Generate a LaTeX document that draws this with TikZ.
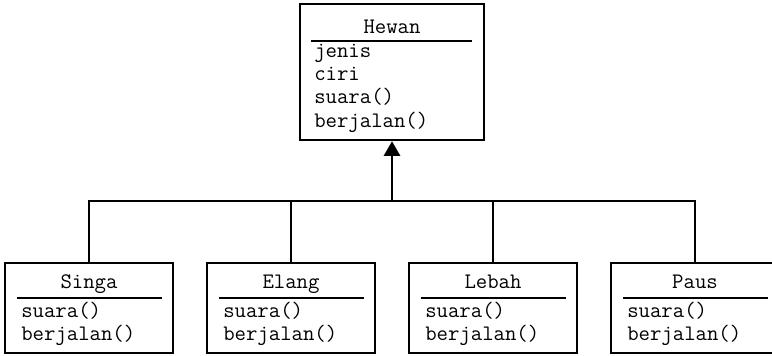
\documentclass[tikz,border=0pt]{standalone}
\usepackage{fontspec}
\usetikzlibrary{arrows.meta}

\begin{document}
\begin{tikzpicture}[
  x=0.75pt, y=-0.75pt,
  every node/.style={font=\ttfamily\fontsize{16.6pt}{18pt}\selectfont},
  classbox/.style={draw, line width=1.8pt, inner sep=0pt, fill=white},
  topbox/.style={classbox, minimum width=138pt, minimum height=102pt},
  subbox/.style={classbox, minimum width=126pt, minimum height=67.5pt},
  title/.style={anchor=base, inner sep=0pt},
  member/.style={anchor=base west, inner sep=0pt},
  rule/.style={line width=1.7pt},
  conn/.style={line width=2.1pt},
  inherit/.style={line width=2.1pt, -{Triangle[width=12pt,length=11pt]}}
]
\clip (0,0) rectangle (772,355);
\fill[white] (0,0) rectangle (772,355);

% superclass
\node[topbox] (hewan) at (392,72) {};
\node[title] (hewanT) at (392,33) {Hewan};
\draw[rule] (311,41) -- (472,41);
\node[member] (h1) at (314,57) {jenis};
\node[member] (h2) at (314,80.3) {ciri};
\node[member] (h3) at (314,103.6) {suara()};
\node[member] (h4) at (314,127) {berjalan()};

% subclasses
\foreach \id/\name/\cx in {singa/Singa/89, elang/Elang/291, lebah/Lebah/493, paus/Paus/695}{
  \node[subbox] (\id) at (\cx,308) {};
  \node[title] (\id T) at (\cx,288) {\name};
  \draw[rule] (\cx-72,298) -- (\cx+73,298);
  \node[member] (\id1) at (\cx-68,317) {suara()};
  \node[member] (\id2) at (\cx-68,340) {berjalan()};
}

% inheritance tree
\coordinate (j) at (392,201);
\draw[conn] (singa.north) -- (singa.north |- j) -- (paus.north |- j) -- (paus.north);
\draw[conn] (elang.north) -- (elang.north |- j);
\draw[conn] (lebah.north) -- (lebah.north |- j);
\draw[inherit] (j) -- (hewan.south);
\end{tikzpicture}
\end{document}
